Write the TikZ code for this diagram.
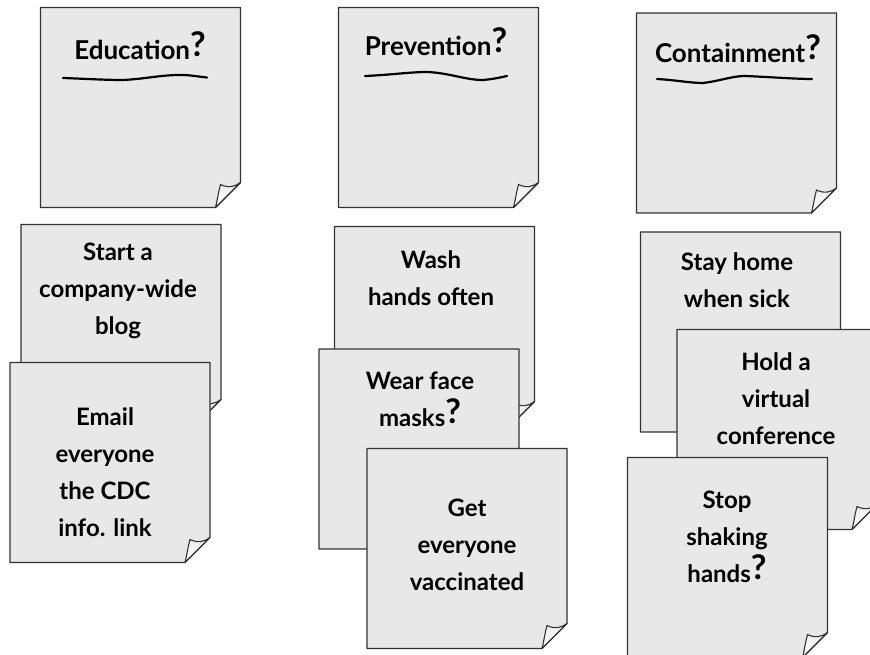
\documentclass[tikz,border=0pt]{standalone}
\usepackage{fontspec}
\setmainfont{Lato}
\usetikzlibrary{calc}
\definecolor{paper}{HTML}{E8E8E8}
\definecolor{edge}{HTML}{333333}
\tikzset{
  notebox/.style={minimum width=200pt, minimum height=200pt, inner sep=0pt, outer sep=0pt, draw=none},
  noteline/.style={draw=edge, line width=1.2pt, fill=paper, line join=round},
  flap/.style={draw=edge, line width=1.1pt, line join=round, top color=paper!80, bottom color=white},
  hand/.style={font=\bfseries\fontsize{24}{37}\selectfont, align=center, text=black},
  title/.style={font=\bfseries\fontsize{26}{30}\selectfont, text=black},
  stroke/.style={line width=2.2pt, line cap=round, draw=black}
}
% outline of a sticky note with its lower right corner curled up
\newcommand\stickynote[1]{%
  \path[noteline] (#1.north west) -- (#1.north east) -- ($(#1.south east)+(0,25)$)
    -- ($(#1.south east)+(-25,0)$) -- (#1.south west) -- cycle;
  \path[flap] ($(#1.south east)+(-25,0)$)
    .. controls ($(#1.south east)+(-23,8)$) and ($(#1.south east)+(-22,16)$) .. ($(#1.south east)+(-20,23)$)
    .. controls ($(#1.south east)+(-12,19)$) and ($(#1.south east)+(-5,21)$) .. ($(#1.south east)+(0,25)$)
    -- cycle;
}
% a tall, raised question mark
\newcommand\bigq{\raisebox{3pt}{\fontsize{34}{34}\selectfont ?}}
\begin{document}
\begin{tikzpicture}[x=1pt,y=1pt]
\useasboundingbox (0,0) rectangle (870,655);
\clip (0,0) rectangle (870,655);

% column headers
\node[notebox] (edu) at (140.5,547.5) {};
\stickynote{edu}
\node[title] (edut) at (140,609) {Education\bigq};
\draw[stroke] (63,577) .. controls (90,576) and (105,575) .. (123,575)
  .. controls (145,576) and (160,580) .. (180,580) .. controls (192,580) and (200,578) .. (207,577.5);

\node[notebox] (prev) at (438.5,547.5) {};
\stickynote{prev}
\node[title] (prevt) at (436,613) {Prevention\bigq};
\draw[stroke] (365,579) .. controls (390,580) and (410,583) .. (427,583)
  .. controls (450,582) and (465,575) .. (483,575) .. controls (495,576) and (502,578) .. (507,579);

\node[notebox] (cont) at (736.5,542) {};
\stickynote{cont}
\node[title] (contt) at (738,606) {Containment\bigq};
\draw[stroke] (657,576) .. controls (675,575) and (690,572) .. (703,572)
  .. controls (720,574) and (732,579) .. (745,579) .. controls (770,578) and (795,576) .. (812,576);

% education ideas
\node[notebox] (blog) at (121,330.5) {};
\stickynote{blog}
\node[hand] (blogt) at (118,364) {Start a\\company-wide\\blog};

\node[notebox] (mail) at (110,192.5) {};
\stickynote{mail}
\node[hand] (mailt) at (105,183) {Email\\everyone\\the CDC\\info. link};

% prevention ideas
\node[notebox] (wash) at (434.5,328.5) {};
\stickynote{wash}
\node[hand] (washt) at (431,377) {Wash\\hands often};

\node[notebox] (mask) at (419,206) {};
\stickynote{mask}
\node[hand] (maskt) at (420,256) {Wear face\\masks\bigq};

\node[notebox] (vacc) at (467,106.5) {};
\stickynote{vacc}
\node[hand] (vacct) at (467,110) {Get\\everyone\\vaccinated};

% containment ideas
\node[notebox] (home) at (740.5,323) {};
\stickynote{home}
\node[hand] (homet) at (737,375) {Stay home\\when sick};

\node[notebox] (conf) at (777,225.5) {};
\stickynote{conf}
\node[hand] (conft) at (776,256) {Hold a\\virtual\\conference};

\node[notebox] (shake) at (727.5,97.5) {};
\stickynote{shake}
\node[hand] (shaket) at (727,118) {Stop\\shaking\\hands\bigq};
\end{tikzpicture}
\end{document}
